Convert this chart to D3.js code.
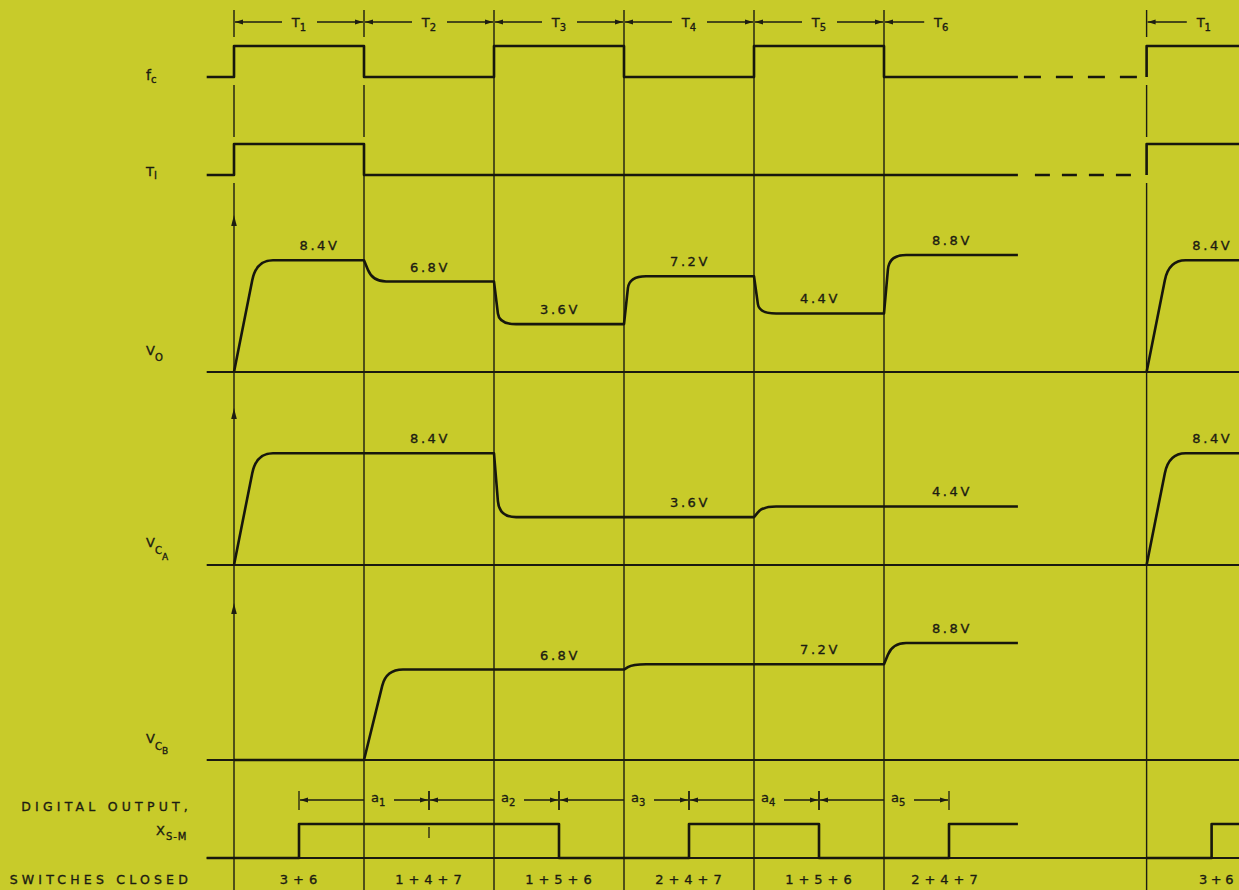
<!DOCTYPE html>
<meta charset="utf-8" />
<style>
  body { margin: 0; background: #c8cb2a; }
  svg { display: block; }
  .sig { fill: none; stroke: #17170d; stroke-width: 2.6px; stroke-linejoin: round; }
  .grid { stroke: #1d1d12; stroke-width: 1.4px; }
  .base { stroke: #1a1a10; stroke-width: 2px; }
  .thin { fill: none; stroke: #1d1d12; stroke-width: 1.3px; }
  .head { fill: #1d1d12; stroke: none; }
  text { font-family: 'DejaVu Sans', sans-serif; fill: #1c1c12; stroke: #1c1c12; stroke-width: 0.35px; }
</style>
<body>
  <script src="https://d3js.org/d3.v7.min.js"></script>
  <script>
    // values (one entry per period T1..T6)
    var periods = ['1', '2', '3', '4', '5', '6'];
    var fc = [1, 0, 1, 0, 1, 0];
    var ti = [1, 0, 0, 0, 0, 0];
    var v0 = [8.4, 6.8, 3.6, 7.2, 4.4, 8.8];
    var vca = [8.4, 8.4, 3.6, 3.6, 4.4, 4.4];
    var vcb = [0, 6.8, 6.8, 7.2, 7.2, 8.8];
    // digital output x_S-M over a1..a5 and the bit after
    var bits = [1, 1, 0, 1, 0, 1];
    var switches = ['3+6', '1+4+7', '1+5+6', '2+4+7', '1+5+6', '2+4+7'];
    var restartT = 7.02;   // start of the next cycle (T1 again)

    var W = 1239, H = 890;
    var tStart = -0.21, tEnd = 6.03, tEdge = 7.8;

    var x = d3.scaleLinear().domain([0, 5]).range([234, 884]);
    var yFc = d3.scaleLinear().domain([0, 1]).range([77, 46]);
    var yTi = d3.scaleLinear().domain([0, 1]).range([175, 144]);
    var yDig = d3.scaleLinear().domain([0, 1]).range([858, 824]);
    function vScale(base) {
      return d3.scaleLinear().domain([0, 10]).range([base, base - 133]);
    }
    var yV0 = vScale(372), yVca = vScale(565), yVcb = vScale(760);

    var svg = d3.select('body').append('svg').attr('width', W).attr('height', H);
    svg.append('rect').attr('width', W).attr('height', H).attr('fill', '#c8cb2a');

    function arrowHead(px, py, dir) {
      // dir -1 points left, 1 points right, 0 points up
      var p;
      if (dir === 0) p = 'M' + px + ',' + py + 'L' + (px - 2.8) + ',' + (py + 11) + 'L' + (px + 2.8) + ',' + (py + 11) + 'Z';
      else p = 'M' + px + ',' + py + 'L' + (px - dir * 8) + ',' + (py - 2.6) + 'L' + (px - dir * 8) + ',' + (py + 2.6) + 'Z';
      svg.append('path').attr('class', 'head').attr('d', p);
    }
    function hline(x1, x2, y, cls) {
      svg.append('line').attr('class', cls).attr('x1', x1).attr('x2', x2).attr('y1', y).attr('y2', y);
    }
    function vline(xx, y1, y2, cls) {
      svg.append('line').attr('class', cls).attr('x1', xx).attr('x2', xx).attr('y1', y1).attr('y2', y2);
    }
    // text with subscripts: parts = [[str, size, dy], ...]
    function label(px, py, parts, anchor, spacing) {
      var t = svg.append('text').attr('x', px).attr('y', py)
        .attr('text-anchor', anchor || 'start')
        .style('letter-spacing', (spacing || 0) + 'px');
      parts.forEach(function(p) {
        t.append('tspan').text(p[0]).style('font-size', p[1] + 'px').attr('dy', p[2] || 0);
      });
      return t;
    }

    // ---- period boundaries (vertical lines) ----
    var gridT = [0, 1, 2, 3, 4, 5, restartT];
    gridT.forEach(function(t) {
      var segs;
      if (t === 0 || t === restartT) segs = [[10, 37], [85, 137], [183, 890]];
      else if (t === 1) segs = [[10, 37], [85, 137], [175, 890]];
      else segs = [[10, 890]];
      segs.forEach(function(s) { vline(x(t), s[0], s[1], 'grid'); });
    });

    // ---- header: period arrows ----
    var yHead = 22;
    periods.forEach(function(p, k) {
      var open = k === periods.length - 1;
      var c = open ? x(k + 0.44) : x(k + 0.5);
      hline(x(k) + 1, c - 17, yHead, 'thin');
      arrowHead(x(k) + 1, yHead, -1);
      if (!open) {
        hline(c + 18, x(k + 1) - 1, yHead, 'thin');
        arrowHead(x(k + 1) - 1, yHead, 1);
      }
      label(c, yHead + 5, [['T', 13], [p, 10, 4]], 'middle');
    });
    hline(x(restartT) + 1, x(restartT + 0.44) - 17, yHead, 'thin');
    arrowHead(x(restartT) + 1, yHead, -1);
    label(x(restartT + 0.44), yHead + 5, [['T', 13], [periods[0], 10, 4]], 'middle');

    // ---- step signals fc and T_I ----
    var stepLine = d3.line().curve(d3.curveStepAfter);
    function stepSignal(levels, y) {
      var pts = [[x(tStart), y(0)]];
      levels.forEach(function(v, k) { pts.push([x(k), y(v)]); });
      pts.push([x(tEnd), y(levels[levels.length - 1])]);
      svg.append('path').attr('class', 'sig').attr('d', stepLine(pts));
      return pts;
    }
    stepSignal(fc, yFc);
    stepSignal(ti, yTi);
    // dashed gap before the next cycle
    svg.append('line').attr('class', 'sig').attr('stroke-dasharray', '17,15')
      .attr('x1', x(tEnd) + 6).attr('x2', x(restartT) - 6)
      .attr('y1', yFc(fc[5])).attr('y2', yFc(fc[5]));
    svg.append('line').attr('class', 'sig').attr('stroke-dasharray', '15,12')
      .attr('x1', x(tEnd) + 17).attr('x2', x(restartT) - 8)
      .attr('y1', yTi(ti[5])).attr('y2', yTi(ti[5]));
    [[fc, yFc], [ti, yTi]].forEach(function(s) {
      svg.append('path').attr('class', 'sig')
        .attr('d', stepLine([[x(restartT), s[1](0)], [x(restartT), s[1](s[0][0])], [x(tEdge), s[1](s[0][0])]]));
    });

    // ---- analog traces ----
    function transition(p, t, a, b) {
      var slow = a === 0;
      var d1 = slow ? 0.14 : 0.03;
      var f = slow ? 0.82 : (Math.abs(b - a) >= 2 ? 0.75 : 0.45);
      var d2 = slow ? 0.3 : 0.17;
      var y = p.yScale;
      var x0 = x(t), y0 = y(a);
      var x1 = x(t + d1), y1 = y(a + f * (b - a));
      p.lineTo(x0, y0);
      p.lineTo(x1, y1);
      var u = (y(b) - y1) / (y1 - y0);
      p.quadraticCurveTo(x1 + u * (x1 - x0), y(b), x(t + d2), y(b));
    }
    function analog(levels, y, t0, count, tLast) {
      var p = d3.path();
      p.yScale = y;
      p.moveTo(x(t0), y(0));
      var cur = 0;
      for (var k = 0; k < count; k++) {
        if (levels[k] !== cur) { transition(p, t0 + k, cur, levels[k]); cur = levels[k]; }
      }
      p.lineTo(x(tLast), y(cur));
      svg.append('path').attr('class', 'sig').attr('d', p.toString());
    }
    function voltText(v) { return v.toFixed(1) + 'V'; }
    function voltLabels(levels, y) {
      levels.forEach(function(v, k) {
        if (v === 0) return;
        if (k < levels.length - 1 && levels[k + 1] === v) return;
        var runStart = k;
        while (runStart > 0 && levels[runStart - 1] === v) runStart--;
        var fromZero = runStart === 0 || levels[runStart - 1] === 0;
        var a = (fromZero && runStart === k) ? x(k + 0.3) : x(k);
        var b = k === levels.length - 1 ? x(tEnd) : x(k + 1);
        label((a + b) / 2 + 1, y(v) - 10, [[voltText(v), 13]], 'middle', 2.6);
      });
    }

    [[v0, yV0], [vca, yVca], [vcb, yVcb]].forEach(function(s) {
      var y = s[1];
      hline(x(tStart), W, y(0), 'base');
      // vertical axis arrow
      arrowHead(x(0), y(11.8), 0);
      analog(s[0], y, 0, s[0].length, tEnd);
      voltLabels(s[0], y);
      // next cycle
      if (s[0][0] > 0) {
        analog([s[0][0]], y, restartT, 1, tEdge);
        label((x(restartT + 0.3) + W) / 2, y(s[0][0]) - 10, [[voltText(s[0][0]), 13]], 'middle', 2.6);
      }
    });

    // ---- digital output ----
    hline(x(tStart), W, yDig(0), 'base');
    var dpts = [[x(tStart), yDig(0)]];
    bits.forEach(function(b, i) { dpts.push([x(i + 0.5), yDig(b)]); });
    dpts.push([x(tEnd), yDig(bits[bits.length - 1])]);
    svg.append('path').attr('class', 'sig').attr('d', stepLine(dpts));
    svg.append('path').attr('class', 'sig')
      .attr('d', stepLine([[x(restartT), yDig(0)], [x(restartT + 0.5), yDig(bits[0])], [x(tEdge), yDig(bits[0])]]));
    // bit boundary mark where two 1s meet
    bits.forEach(function(b, i) {
      if (i > 0 && b === 1 && bits[i - 1] === 1) vline(x(i + 0.5), yDig(1) + 3, yDig(1) + 14, 'thin');
    });

    // a_i interval arrows
    var yA = 800;
    for (var i = 0; i < bits.length - 1; i++) {
      var s = x(i + 0.5), bnd = x(i + 1), e = x(i + 1.5);
      vline(s, yA - 9, yA + 10, 'thin');
      vline(e, yA - 9, yA + 10, 'thin');
      hline(s + 1, bnd, yA, 'thin');
      arrowHead(s + 1, yA, -1);
      label(bnd + 7, yA + 2, [['a', 13], [String(i + 1), 10, 4]], 'start');
      hline(bnd + 30, e - 1, yA, 'thin');
      arrowHead(e - 1, yA, 1);
    }

    // switches closed
    switches.forEach(function(sw, k) {
      var c = k === switches.length - 1 ? (x(k) + x(tEnd)) / 2 - 6 : x(k + 0.5);
      label(c + 2, 884, [[sw, 13]], 'middle', 5);
    });
    label(W - 2, 884, [[switches[0], 13]], 'end', 3.5);

    // ---- row labels ----
    label(146, 80, [['f', 14], ['c', 10, 3]]);
    label(146, 176, [['T', 13], ['I', 10, 3]]);
    label(146, 355, [['V', 13], ['O', 10, 6]]);
    label(146, 547, [['V', 13], ['C', 10, 7], ['A', 9, 6]]);
    label(146, 743, [['V', 13], ['C', 10, 7], ['B', 9, 4]]);
    label(192, 811, [['DIGITAL OUTPUT,', 12.5]], 'end', 4.2);
    label(156, 835, [['X', 13], ['S-M', 10, 5]], 'start', 1);
    label(192, 884, [['SWITCHES CLOSED', 12.5]], 'end', 4.2);
  </script>
</body>
